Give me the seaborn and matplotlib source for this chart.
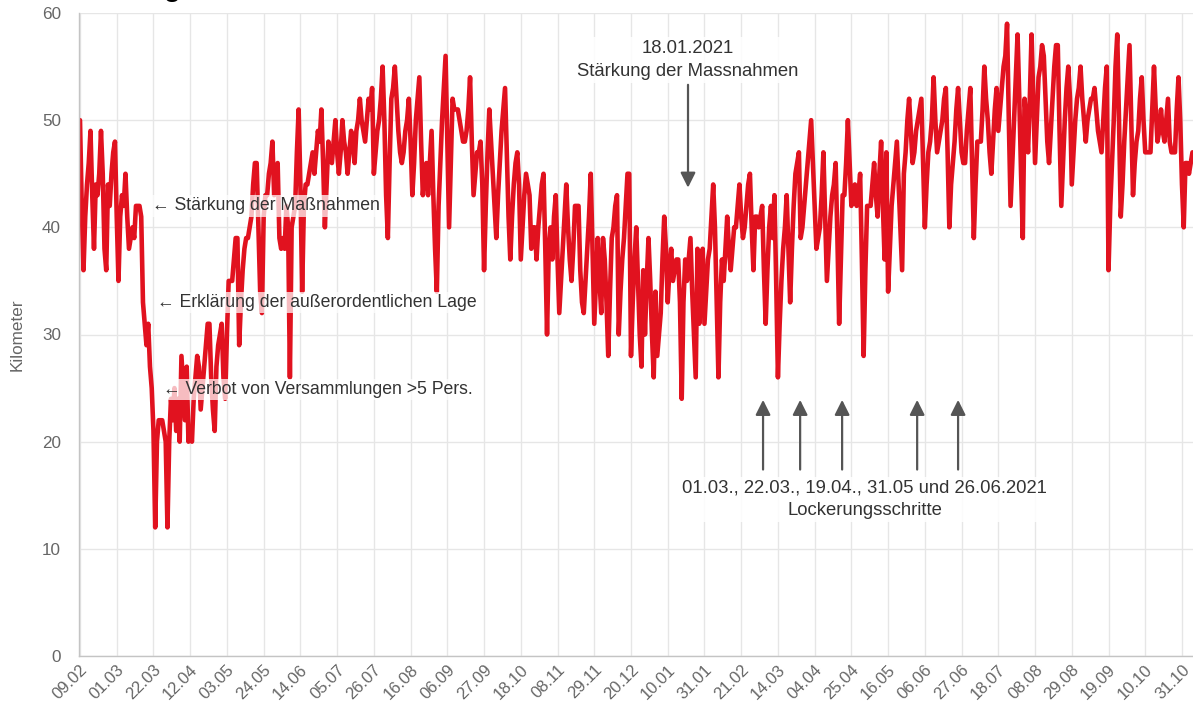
import numpy as np
import pandas as pd
import matplotlib
matplotlib.use("Agg")
import matplotlib.pyplot as plt
import matplotlib.transforms as mtransforms
import seaborn as sns

# ---------------- data ----------------
start_date = "2020-02-09"
tick_step_days = 21

km_values = [
    50, 42, 36, 41, 44, 46, 49, 43, 38, 44, 43, 45, 49, 45, 38, 36, 44, 42, 45, 47,
    48, 41, 35, 41, 43, 42, 45, 41, 38, 39, 40, 39, 42, 42, 42, 41, 33, 31, 29, 31,
    27, 25, 21, 12, 20, 22, 22, 22, 21, 20, 12, 20, 24, 22, 25, 21, 24, 20, 28, 25,
    22, 27, 20, 21, 20, 24, 26, 28, 27, 23, 25, 27, 29, 31, 31, 26, 23, 21, 27, 29,
    30, 31, 26, 24, 30, 35, 35, 35, 37, 39, 39, 29, 33, 36, 38, 39, 39, 40, 41, 44,
    46, 46, 40, 34, 32, 41, 43, 43, 45, 46, 48, 43, 44, 46, 39, 38, 39, 38, 42, 40,
    26, 40, 41, 42, 47, 51, 44, 34, 42, 44, 44, 45, 46, 47, 45, 47, 49, 48, 51, 46,
    40, 44, 48, 47, 46, 48, 50, 47, 45, 47, 50, 48, 47, 45, 47, 49, 48, 46, 49, 50,
    52, 50, 49, 48, 50, 52, 51, 53, 45, 47, 49, 50, 52, 55, 50, 43, 39, 46, 52, 53,
    55, 52, 49, 47, 46, 47, 49, 50, 52, 48, 43, 46, 50, 52, 54, 48, 43, 45, 46, 43,
    46, 49, 43, 38, 34, 42, 46, 50, 53, 56, 48, 40, 46, 52, 51, 51, 51, 50, 49, 48,
    48, 49, 51, 54, 48, 43, 45, 47, 47, 48, 44, 36, 42, 47, 51, 48, 45, 42, 39, 43,
    46, 49, 51, 53, 47, 41, 37, 41, 44, 46, 47, 44, 37, 40, 43, 45, 44, 43, 38, 40,
    40, 37, 40, 42, 44, 45, 38, 30, 38, 40, 37, 41, 43, 37, 32, 35, 38, 41, 44, 40,
    37, 35, 38, 42, 42, 42, 36, 33, 32, 35, 38, 41, 45, 38, 31, 35, 39, 35, 32, 39,
    37, 33, 28, 34, 39, 40, 42, 43, 30, 34, 37, 39, 42, 45, 45, 28, 33, 37, 40, 35,
    30, 27, 36, 30, 35, 39, 35, 30, 26, 34, 28, 30, 32, 37, 41, 38, 33, 36, 38, 35,
    36, 37, 37, 33, 24, 33, 37, 35, 37, 39, 34, 30, 26, 38, 31, 35, 38, 31, 34, 37,
    38, 41, 44, 40, 33, 26, 33, 37, 35, 38, 41, 38, 36, 38, 40, 40, 42, 44, 41, 39,
    40, 42, 44, 45, 40, 36, 41, 41, 40, 41, 42, 36, 31, 36, 40, 42, 39, 43, 35, 26,
    31, 35, 38, 40, 43, 38, 33, 38, 42, 45, 46, 47, 39, 40, 42, 44, 46, 48, 50, 46,
    42, 38, 39, 40, 43, 47, 41, 35, 38, 41, 43, 44, 46, 39, 31, 37, 43, 43, 46, 50,
    46, 42, 43, 44, 42, 43, 45, 37, 28, 36, 42, 42, 42, 44, 46, 43, 41, 45, 48, 42,
    37, 47, 34, 38, 42, 44, 46, 48, 44, 40, 36, 45, 47, 50, 52, 49, 46, 47, 49, 50,
    51, 52, 46, 40, 44, 47, 48, 50, 54, 50, 47, 48, 49, 50, 52, 53, 47, 40, 44, 46,
    48, 51, 53, 50, 47, 46, 46, 49, 51, 53, 46, 39, 44, 48, 48, 48, 51, 55, 52, 50,
    47, 45, 48, 51, 53, 49, 51, 53, 55, 56, 59, 50, 42, 46, 50, 54, 58, 52, 45, 39,
    52, 50, 47, 52, 58, 52, 46, 50, 54, 55, 57, 56, 52, 48, 46, 49, 52, 55, 57, 57,
    49, 42, 46, 50, 53, 55, 52, 44, 47, 50, 52, 53, 55, 52, 50, 48, 50, 51, 52, 52,
    53, 51, 49, 48, 47, 50, 53, 55, 36, 42, 46, 50, 55, 58, 50, 41, 44, 48, 51, 54,
    57, 50, 43, 46, 48, 49, 52, 54, 50, 47, 47, 47, 47, 51, 55, 51, 48, 49, 51, 49,
    48, 50, 52, 48, 47, 47, 47, 51, 54, 50, 44, 40, 46, 46, 45, 46, 47,
]

y_ticks = [0, 10, 20, 30, 40, 50, 60]
y_label = "Kilometer"

event_labels_left = [
    "\u2190 Stärkung der Maßnahmen",
    "\u2190 Erklärung der außerordentlichen Lage",
    "\u2190 Verbot von Versammlungen >5 Pers.",
]
event_label_top = "18.01.2021\nStärkung der Massnahmen"
event_label_bottom = "01.03., 22.03., 19.04., 31.05 und 26.06.2021\nLockerungsschritte"
title_fragment = "g"

# ---------------- style ----------------
RED = "#e1121f"
GRID = "#e6e6e6"
TXT = "#666666"
ANN = "#333333"
ARROW = "#555555"

sns.set_style("white")
plt.rcParams["font.family"] = ["Liberation Sans", "DejaVu Sans"]

dates = pd.date_range(start_date, periods=len(km_values), freq="D")
df = pd.DataFrame({"Datum": dates, "Kilometer": km_values})

W, H = 1193, 710
fig = plt.figure(figsize=(W / 100, H / 100), dpi=100)
ax = fig.add_axes([79 / W, 1 - 656 / H, (W - 79) / W, 643 / H])

sns.lineplot(data=df, x="Datum", y="Kilometer", ax=ax, color=RED,
             linewidth=3.3, solid_joinstyle="round", zorder=2)

d0 = dates[0]
ax.set_xlim(d0 - pd.Timedelta(days=0.57), d0 + pd.Timedelta(days=636.3))
ax.set_ylim(0, 60)

ax.grid(True, color=GRID, linewidth=1.0, zorder=0)
ax.set_axisbelow(True)
ax.tick_params(axis="y", length=12, width=1.0, color=GRID, labelcolor=TXT,
               labelsize=12.3, pad=1)
ax.tick_params(axis="x", length=5, width=1.0, color=GRID, labelcolor=TXT,
               labelsize=12, pad=3)

ticks = dates[::tick_step_days]
ax.set_xticks(ticks)
ax.set_xticklabels([t.strftime("%d.%m") for t in ticks], rotation=45,
                   ha="right", va="center", rotation_mode="anchor")
shift = mtransforms.ScaledTranslation(5 / 100, 0, fig.dpi_scale_trans)
for tk in ax.xaxis.get_major_ticks():
    tk.label1.set_transform(tk.label1.get_transform() + shift)
ax.set_yticks(y_ticks)
ax.set_yticklabels([str(v) for v in y_ticks])

for s in ["top", "right"]:
    ax.spines[s].set_visible(False)
for s in ["left", "bottom"]:
    ax.spines[s].set_color("#c4c4c4")
    ax.spines[s].set_linewidth(1.0)

ax.set_xlabel("")
ax.set_ylabel(y_label, color=TXT, fontsize=12.3)
ax.yaxis.set_label_coords(-0.049, 0.5)

# ---------------- annotations ----------------
def day(n):
    return d0 + pd.Timedelta(days=n)

box = dict(facecolor="white", alpha=0.72, edgecolor="none", pad=1.5)
left_pos = [(41.2, 42.0), (44.2, 33.0), (47.6, 24.9)]
for txt, (dx, vy) in zip(event_labels_left, left_pos):
    ax.text(day(dx), vy, txt, ha="left", va="center", fontsize=12.7,
            color=ANN, bbox=box, zorder=3)

ax.text(day(347.6), 55.6, event_label_top, ha="center", va="center",
        fontsize=13.3, color=ANN, linespacing=1.45,
        bbox=dict(facecolor="white", alpha=0.85, edgecolor="none", pad=2), zorder=3)
ax.annotate("", xy=(day(347.6), 43.7), xytext=(day(347.6), 53.3),
            arrowprops=dict(arrowstyle="-|>,head_width=0.45,head_length=0.9",
                            color=ARROW, lw=1.6, shrinkA=0, shrinkB=0), zorder=3)

ax.text(day(448.7), 14.6, event_label_bottom, ha="center", va="center",
        fontsize=13.3, color=ANN, linespacing=1.4,
        bbox=dict(facecolor="white", alpha=0.85, edgecolor="none", pad=2), zorder=3)
for dx in [390.5, 411.7, 435.7, 478.6, 502.0]:
    ax.annotate("", xy=(day(dx), 23.9), xytext=(day(dx), 17.4),
                arrowprops=dict(arrowstyle="-|>,head_width=0.45,head_length=0.9",
                                color=ARROW, lw=1.6, shrinkA=0, shrinkB=0), zorder=3)

# cut-off title fragment at the very top of the picture
fig.text(172 / W, 1 + 4 / H, title_fragment, ha="center", va="baseline",
         fontsize=20, fontweight="bold", color="black")

fig.savefig("out.png", dpi=100)
